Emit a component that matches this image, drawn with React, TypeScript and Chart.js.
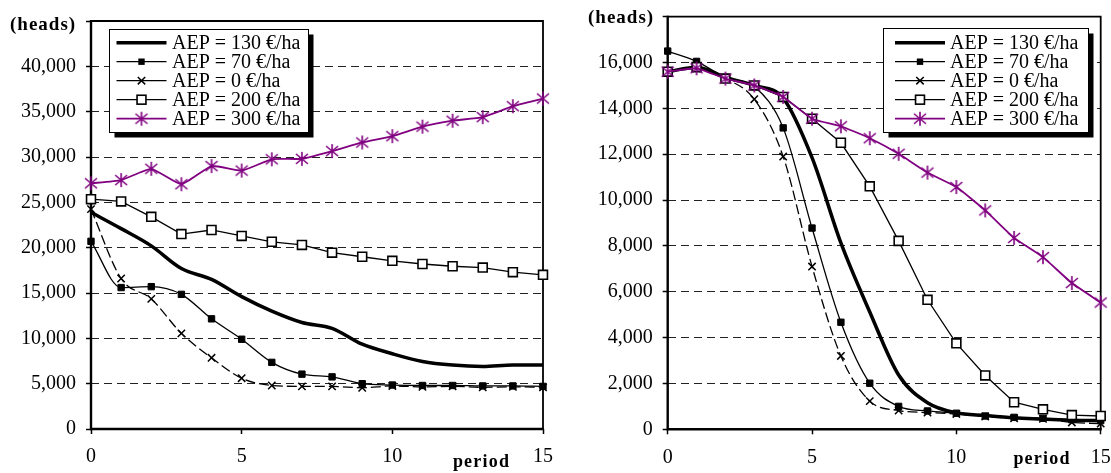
import React, { useEffect, useRef } from 'react';
import { Chart, registerables } from 'chart.js';

Chart.register(...registerables);

// ---------------- data ----------------
const periods = [0, 1, 2, 3, 4, 5, 6, 7, 8, 9, 10, 11, 12, 13, 14, 15];
const seriesLabels = ['AEP = 130 €/ha', 'AEP = 70 €/ha', 'AEP = 0 €/ha', 'AEP = 200 €/ha', 'AEP = 300 €/ha'];

// left panel
const leftAep130 = [23900, 22100, 20200, 17700, 16500, 14600, 13000, 11750, 11100, 9350, 8300, 7450, 7050, 6900, 7050, 7050];
const leftAep70 = [20700, 15600, 15700, 14850, 12150, 9900, 7350, 6050, 5750, 5000, 4850, 4800, 4800, 4750, 4750, 4700];
const leftAep0 = [24250, 16600, 14350, 10550, 7850, 5600, 4800, 4700, 4700, 4550, 4750, 4650, 4700, 4600, 4650, 4600];
const leftAep200 = [25350, 25100, 23400, 21500, 21950, 21300, 20650, 20300, 19450, 19000, 18550, 18200, 17950, 17800, 17300, 17000];
const leftAep300 = [27100, 27450, 28700, 27000, 29000, 28500, 29750, 29800, 30650, 31600, 32300, 33350, 34000, 34400, 35600, 36450];
const leftYMax = 45000;
const leftYStep = 5000;

// right panel
const rightAep130 = [15600, 15800, 15350, 15000, 14450, 11850, 8130, 5120, 2370, 1160, 720, 600, 500, 450, 400, 380];
const rightAep70 = [16500, 16050, 15350, 14950, 13150, 8780, 4670, 2010, 1000, 800, 700, 580, 520, 480, 420, 380];
const rightAep0 = [15600, 15750, 15300, 14400, 11900, 7100, 3200, 1230, 820, 730, 670, 560, 480, 460, 300, 250];
const rightAep200 = [15600, 15800, 15300, 15000, 14500, 13550, 12500, 10600, 8220, 5650, 3750, 2350, 1180, 870, 620, 580];
const rightAep300 = [15600, 15750, 15300, 15000, 14500, 13550, 13220, 12700, 12020, 11200, 10570, 9550, 8350, 7510, 6380, 5530];
const rightYMax = 18000;
const rightYStep = 2000;

const xMax = 15;
const xTickStep = 5;
const yAxisTitle = '(heads)';
const xAxisTitle = 'period';

// ---------------- styles ----------------
const SERIF = "'Liberation Serif', 'Times New Roman', serif";
const PURPLE = '#800080';

function makeStar(): HTMLCanvasElement {
  const c = document.createElement('canvas');
  c.width = 16;
  c.height = 16;
  const g = c.getContext('2d')!;
  g.strokeStyle = PURPLE;
  g.lineWidth = 1.6;
  g.beginPath();
  g.moveTo(8, 1); g.lineTo(8, 15);
  g.moveTo(2, 3); g.lineTo(14, 13);
  g.moveTo(14, 3); g.lineTo(2, 13);
  g.stroke();
  return c;
}

type LegendBox = { x0: number; y0: number; x1: number; y1: number; lineX0: number; lineX1: number; textX: number; baseline0: number; rowGap: number };
type PanelCfg = {
  series: number[][];
  yMax: number;
  yStep: number;
  canvasLeft: number;
  canvasWidth: number;
  yAxisWidth: number;
  padTop: number;
  padRight: number;
  xAxisHeight: number;
  legend: LegendBox;
  heads: { x: number; y: number };
  period: { x: number; y: number };
};

const leftPanel: PanelCfg = {
  series: [leftAep130, leftAep70, leftAep0, leftAep200, leftAep300],
  yMax: leftYMax,
  yStep: leftYStep,
  canvasLeft: 0,
  canvasWidth: 555,
  yAxisWidth: 91,
  padTop: 21,
  padRight: 12,
  xAxisHeight: 44,
  legend: { x0: 109.5, y0: 29.5, x1: 308.5, y1: 132.5, lineX0: 116.5, lineX1: 166.5, textX: 172, baseline0: 48.5, rowGap: 19 },
  heads: { x: 10, y: 25 },
  period: { x: 481.5, y: 467 },
};

const rightPanel: PanelCfg = {
  series: [rightAep130, rightAep70, rightAep0, rightAep200, rightAep300],
  yMax: rightYMax,
  yStep: rightYStep,
  canvasLeft: 555,
  canvasWidth: 556,
  yAxisWidth: 112.7,
  padTop: 16.7,
  padRight: 10.3,
  xAxisHeight: 43.7,
  legend: { x0: 328.5, y0: 28.5, x1: 533.5, y1: 132.5, lineX0: 340, lineX1: 390, textX: 395, baseline0: 48.5, rowGap: 19 },
  heads: { x: 33, y: 18.5 },
  period: { x: 487, y: 464 },
};

function drawLegendMarker(ctx: CanvasRenderingContext2D, idx: number, x: number, y: number, star: HTMLCanvasElement) {
  ctx.save();
  if (idx === 1) {
    const s = 6.4;
    ctx.fillStyle = '#000';
    ctx.fillRect(x - s / 2, y - s / 2, s, s);
  } else if (idx === 2) {
    const r = 3.7;
    ctx.strokeStyle = '#000';
    ctx.lineWidth = 1.5;
    ctx.beginPath();
    ctx.moveTo(x - r, y - r); ctx.lineTo(x + r, y + r);
    ctx.moveTo(x + r, y - r); ctx.lineTo(x - r, y + r);
    ctx.stroke();
  } else if (idx === 3) {
    const s = 8.9;
    ctx.fillStyle = '#fff';
    ctx.strokeStyle = '#000';
    ctx.lineWidth = 1.6;
    ctx.fillRect(x - s / 2, y - s / 2, s, s);
    ctx.strokeRect(x - s / 2, y - s / 2, s, s);
  } else if (idx === 4) {
    ctx.drawImage(star, x - star.width / 2, y - star.height / 2);
  }
  ctx.restore();
}

function ChartPanel({ cfg }: { cfg: PanelCfg }) {
  const ref = useRef<HTMLCanvasElement>(null);

  useEffect(() => {
    const star = makeStar();
    const styles: any[] = [
      { borderColor: '#000', borderWidth: 3.5, pointRadius: 0, cubicInterpolationMode: 'monotone', order: 2 },
      { borderColor: '#000', borderWidth: 1.3, pointStyle: 'rect', pointRadius: 4.5, pointBackgroundColor: '#000', pointBorderColor: '#000', pointBorderWidth: 1, cubicInterpolationMode: 'monotone', order: 3 },
      { borderColor: '#000', borderWidth: 1.3, borderDash: [10, 4], pointStyle: 'crossRot', pointRadius: 5.2, pointBackgroundColor: '#000', pointBorderColor: '#000', pointBorderWidth: 1.5, cubicInterpolationMode: 'monotone', order: 4 },
      { borderColor: '#000', borderWidth: 1.3, pointStyle: 'rect', pointRadius: 6.3, pointBackgroundColor: '#fff', pointBorderColor: '#000', pointBorderWidth: 1.6, tension: 0, order: 1 },
      { borderColor: PURPLE, borderWidth: 1.8, pointStyle: star, pointRadius: 7, tension: 0.15, order: 0 },
    ];

    const datasets = cfg.series.map((vals, i) => ({
      label: seriesLabels[i],
      data: vals.map((v, j) => ({ x: periods[j], y: v })),
      fill: false,
      clip: false as any,
      ...styles[i],
    }));

    const decor = {
      id: 'decor',
      beforeDatasetsDraw(chart: any) {
        const { ctx, chartArea: a } = chart;
        ctx.save();
        ctx.strokeStyle = '#000';
        ctx.lineWidth = 1.8;
        ctx.beginPath();
        ctx.moveTo(a.left, a.top); ctx.lineTo(a.right, a.top); ctx.lineTo(a.right, a.bottom);
        ctx.stroke();
        ctx.lineWidth = 2.4;
        ctx.beginPath();
        ctx.moveTo(a.left, a.top - 1); ctx.lineTo(a.left, a.bottom); ctx.lineTo(a.right + 1, a.bottom);
        ctx.stroke();
        ctx.restore();
      },
      afterDraw(chart: any) {
        const ctx: CanvasRenderingContext2D = chart.ctx;
        const L = cfg.legend;
        ctx.save();
        // legend shadow + box
        ctx.fillStyle = '#000';
        ctx.fillRect(L.x0 + 5, L.y0 + 5, L.x1 - L.x0, L.y1 - L.y0);
        ctx.fillStyle = '#fff';
        ctx.fillRect(L.x0, L.y0, L.x1 - L.x0, L.y1 - L.y0);
        ctx.strokeStyle = '#000';
        ctx.lineWidth = 1;
        ctx.strokeRect(L.x0, L.y0, L.x1 - L.x0, L.y1 - L.y0);
        // legend rows
        ctx.font = `20px ${SERIF}`;
        ctx.textBaseline = 'alphabetic';
        ctx.textAlign = 'left';
        seriesLabels.forEach((lab, i) => {
          const base = L.baseline0 + i * L.rowGap;
          const ly = base - 5.8;
          const st = styles[i];
          ctx.save();
          ctx.strokeStyle = st.borderColor;
          ctx.lineWidth = st.borderWidth;
          ctx.beginPath();
          ctx.moveTo(L.lineX0, ly);
          ctx.lineTo(L.lineX1, ly);
          ctx.stroke();
          ctx.restore();
          drawLegendMarker(ctx, i, (L.lineX0 + L.lineX1) / 2, ly, star);
          ctx.fillStyle = '#000';
          ctx.fillText(lab, L.textX, base);
        });
        // axis titles
        (ctx as any).letterSpacing = '1px';
        ctx.font = `bold 19px ${SERIF}`;
        ctx.textBaseline = 'middle';
        ctx.textAlign = 'left';
        ctx.fillText(yAxisTitle, cfg.heads.x, cfg.heads.y);
        (ctx as any).letterSpacing = '1.2px';
        ctx.font = `bold 18px ${SERIF}`;
        ctx.textBaseline = 'alphabetic';
        ctx.textAlign = 'center';
        ctx.fillText(xAxisTitle, cfg.period.x, cfg.period.y);
        (ctx as any).letterSpacing = '0px';
        ctx.restore();
      },
    };

    const chart = new Chart(ref.current!, {
      type: 'line',
      data: { datasets },
      options: {
        responsive: false,
        animation: false,
        events: [],
        layout: { padding: { left: 0, top: cfg.padTop, right: cfg.padRight, bottom: 0 } },
        plugins: { legend: { display: false }, tooltip: { enabled: false }, title: { display: false } },
        scales: {
          x: {
            type: 'linear',
            min: 0,
            max: xMax,
            ticks: { stepSize: xTickStep, font: { family: SERIF, size: 20 }, color: '#000', padding: 11, maxRotation: 0, autoSkip: false },
            grid: { drawOnChartArea: false, drawTicks: true, tickLength: 5, color: '#000', tickWidth: 1.5 },
            border: { display: false },
            afterFit: (s: any) => {
              s.height = cfg.xAxisHeight;
              s.paddingLeft = 0;
              s.paddingRight = 0;
            },
          },
          y: {
            type: 'linear',
            min: 0,
            max: cfg.yMax,
            ticks: {
              stepSize: cfg.yStep,
              font: { family: SERIF, size: 20 },
              color: '#000',
              padding: 10,
              callback: (v: any) => (Number(v) >= cfg.yMax ? '' : Number(v).toLocaleString('en-US')),
            },
            grid: { color: '#222', lineWidth: 1, drawTicks: true, tickLength: 5, tickColor: '#000', tickWidth: 1.5 },
            border: { display: false, dash: [8, 5] },
            afterFit: (s: any) => {
              s.width = cfg.yAxisWidth;
              s.paddingTop = 0;
              s.paddingBottom = 0;
            },
          },
        },
      } as any,
      plugins: [decor],
    });
    return () => chart.destroy();
  }, [cfg]);

  return (
    <canvas
      ref={ref}
      width={cfg.canvasWidth}
      height={473}
      style={{ position: 'absolute', left: cfg.canvasLeft, top: 0, width: cfg.canvasWidth, height: 473 }}
    />
  );
}

export default function App() {
  return (
    <div style={{ position: 'absolute', left: 0, top: 0, width: 1111, height: 473, background: '#fff', overflow: 'hidden' }}>
      <ChartPanel cfg={leftPanel} />
      <ChartPanel cfg={rightPanel} />
    </div>
  );
}
